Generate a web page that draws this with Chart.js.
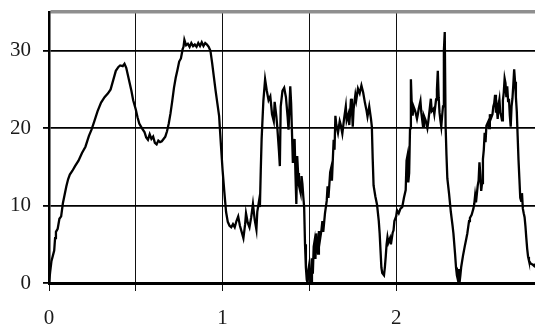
<!DOCTYPE html>
<html>
<head>
<meta charset="utf-8">
<script src="https://cdn.jsdelivr.net/npm/chart.js@4/dist/chart.umd.min.js"></script>
<style>
  html, body { margin: 0; padding: 0; background: #ffffff; }
  #wrap { width: 535px; height: 329px; position: relative; }
</style>
</head>
<body>
<div id="wrap"><canvas id="c"></canvas></div>
<script>
// ---- data ----
const xValues = [
  0, 0.007, 0.014, 0.022, 0.03, 0.035, 0.04, 0.05, 0.06, 0.07, 0.08, 0.09, 0.1, 0.11, 0.12, 0.135, 0.15, 0.17, 0.19, 0.21,
  0.23, 0.245, 0.26, 0.28, 0.3, 0.32, 0.34, 0.355, 0.37, 0.385, 0.4, 0.41, 0.425, 0.435, 0.445, 0.455, 0.465, 0.475, 0.485, 0.5,
  0.51, 0.52, 0.535, 0.55, 0.56, 0.57, 0.58, 0.59, 0.6, 0.61, 0.62, 0.63, 0.64, 0.65, 0.66, 0.67, 0.68, 0.69, 0.7, 0.71,
  0.72, 0.73, 0.74, 0.75, 0.76, 0.77, 0.775, 0.78, 0.79, 0.8, 0.81, 0.82, 0.83, 0.84, 0.85, 0.86, 0.87, 0.88, 0.89, 0.9,
  0.91, 0.92, 0.93, 0.94, 0.95, 0.96, 0.97, 0.98, 0.99, 1.0, 1.01, 1.02, 1.03, 1.04, 1.05, 1.06, 1.07, 1.08, 1.09, 1.1,
  1.11, 1.12, 1.13, 1.135, 1.145, 1.155, 1.165, 1.175, 1.185, 1.195, 1.2, 1.21, 1.215, 1.22, 1.225, 1.235, 1.245, 1.255, 1.265, 1.275,
  1.285, 1.295, 1.3, 1.31, 1.315, 1.325, 1.33, 1.335, 1.345, 1.355, 1.365, 1.375, 1.38, 1.39, 1.395, 1.405, 1.41, 1.415, 1.42, 1.425,
  1.43, 1.435, 1.44, 1.45, 1.455, 1.46, 1.465, 1.47, 1.475, 1.48, 1.485, 1.49, 1.495, 1.5, 1.505, 1.51, 1.515, 1.52, 1.525, 1.53,
  1.535, 1.54, 1.545, 1.55, 1.555, 1.56, 1.57, 1.575, 1.58, 1.59, 1.6, 1.605, 1.61, 1.62, 1.625, 1.63, 1.64, 1.645, 1.65, 1.655,
  1.665, 1.675, 1.68, 1.69, 1.7, 1.71, 1.715, 1.725, 1.73, 1.74, 1.745, 1.75, 1.755, 1.765, 1.77, 1.78, 1.79, 1.8, 1.81, 1.82,
  1.83, 1.835, 1.845, 1.855, 1.86, 1.865, 1.87, 1.88, 1.89, 1.9, 1.905, 1.91, 1.915, 1.92, 1.93, 1.935, 1.94, 1.945, 1.95, 1.955,
  1.965, 1.97, 1.98, 1.985, 1.99, 2.0, 2.005, 2.015, 2.025, 2.035, 2.045, 2.055, 2.06, 2.065, 2.07, 2.075, 2.08, 2.085, 2.09, 2.095,
  2.1, 2.11, 2.12, 2.125, 2.13, 2.14, 2.145, 2.155, 2.16, 2.17, 2.18, 2.185, 2.19, 2.2, 2.205, 2.215, 2.22, 2.23, 2.235, 2.24,
  2.245, 2.25, 2.255, 2.26, 2.265, 2.27, 2.275, 2.28, 2.285, 2.29, 2.295, 2.305, 2.315, 2.325, 2.33, 2.34, 2.345, 2.35, 2.355, 2.36,
  2.365, 2.37, 2.375, 2.385, 2.395, 2.405, 2.41, 2.42, 2.425, 2.435, 2.445, 2.45, 2.455, 2.46, 2.47, 2.475, 2.48, 2.485, 2.49, 2.495,
  2.5, 2.505, 2.51, 2.515, 2.52, 2.53, 2.535, 2.54, 2.545, 2.555, 2.56, 2.565, 2.57, 2.575, 2.58, 2.585, 2.59, 2.595, 2.6, 2.605,
  2.61, 2.615, 2.62, 2.625, 2.63, 2.635, 2.64, 2.645, 2.65, 2.655, 2.66, 2.665, 2.67, 2.675, 2.68, 2.685, 2.69, 2.695, 2.7, 2.705,
  2.71, 2.715, 2.72, 2.725, 2.73, 2.735, 2.74, 2.745, 2.75, 2.755, 2.76, 2.765, 2.775, 2.785, 2.795, 2.8
];
const yValues = [
  0, 1.5, 2.8, 3.5, 4.2, 5.8, 6.6, 7.0, 8.3, 8.6, 10.3, 11.4, 12.5, 13.4, 14.0, 14.5, 15.1, 15.8, 16.8, 17.6,
  19.0, 19.8, 20.8, 22.2, 23.3, 24.0, 24.5, 25.0, 26.2, 27.4, 27.9, 28.1, 28.0, 28.3, 27.8, 26.8, 25.8, 24.8, 23.6, 22.4,
  21.4, 20.6, 20.0, 19.5, 18.8, 18.5, 19.2, 18.6, 18.9, 18.1, 17.9, 18.4, 18.2, 18.3, 18.6, 18.9, 19.6, 20.6, 21.9, 23.5,
  25.2, 26.5, 27.5, 28.6, 29.0, 30.2, 30.5, 31.4, 30.7, 30.9, 30.5, 31.0, 30.6, 30.8, 30.5, 31.0, 30.6, 31.1, 30.6, 31.0,
  30.8, 30.5, 30.0, 28.4, 26.6, 24.8, 23.2, 21.6, 18.0, 14.6, 11.8, 9.2, 7.9, 7.4, 7.2, 7.6, 7.2, 8.0, 8.6, 7.4,
  6.6, 5.8, 7.6, 9.0, 7.8, 7.2, 8.5, 10.2, 8.2, 6.9, 9.2, 10.6, 9.8, 14.5, 18.6, 23.5, 26.3, 24.8, 23.6, 24.1,
  21.8, 20.9, 23.4, 21.5, 20.2, 17.0, 15.1, 22.8, 24.8, 25.2, 24.0, 21.4, 19.8, 25.4, 23.2, 15.5, 17.8, 18.6, 14.0, 10.2,
  16.4, 14.2, 12.6, 11.6, 13.8, 12.8, 11.2, 9.8, 5.0, 2.0, 0.4, 0, 1.8, 2.5, 0.8, 0, 3.2, 1.2, 4.7, 5.4,
  3.1, 6.4, 5.0, 3.8, 6.7, 5.4, 6.9, 8.0, 6.6, 9.0, 10.6, 12.5, 11.0, 14.3, 14.8, 13.2, 18.5, 17.2, 21.6, 20.5,
  19.4, 20.9, 20.5, 19.3, 21.2, 22.8, 21.0, 21.8, 20.4, 23.8, 22.6, 20.2, 22.5, 24.3, 23.6, 25.1, 24.5, 25.5, 24.6, 23.3,
  22.2, 21.5, 22.8, 21.2, 20.2, 16.0, 12.6, 11.2, 10.1, 8.0, 6.4, 4.2, 2.0, 1.3, 1.0, 2.0, 3.4, 5.0, 5.9, 5.2,
  5.8, 5.0, 6.5, 6.8, 8.0, 8.6, 9.4, 9.0, 9.6, 9.8, 11.0, 12.0, 15.8, 16.4, 13.0, 14.2, 20.0, 26.3, 23.0, 21.6,
  22.8, 22.2, 21.2, 21.8, 22.5, 23.5, 22.0, 20.2, 21.6, 21.0, 20.0, 20.8, 21.8, 23.8, 22.2, 22.5, 21.8, 23.7, 25.0, 27.4,
  24.0, 22.0, 21.0, 20.2, 21.6, 22.8, 30.0, 32.4, 20.3, 16.5, 13.5, 11.5, 9.2, 7.4, 6.4, 3.6, 2.0, 1.0, 0.5, 1.8,
  0, 1.0, 2.1, 3.5, 4.7, 5.8, 6.4, 8.0, 8.4, 8.8, 9.6, 10.2, 11.3, 10.4, 12.6, 13.2, 15.6, 14.0, 11.9, 12.9,
  16.0, 17.2, 19.4, 18.2, 20.3, 20.8, 20.0, 21.8, 21.2, 21.8, 22.8, 23.2, 24.3, 22.0, 22.6, 21.2, 23.0, 23.7, 22.0, 21.6,
  21.0, 23.6, 24.6, 26.4, 25.8, 24.0, 25.4, 23.5, 23.8, 21.6, 20.2, 22.8, 23.8, 25.6, 27.6, 26.0, 24.0, 22.2, 19.0, 15.9,
  13.5, 11.0, 10.6, 11.6, 9.6, 9.0, 8.5, 7.3, 5.8, 4.4, 3.4, 2.9, 2.5, 2.4, 2.2, 2.5
];
const xTickLabels = ['0', '1', '2'];
const yTickLabels = ['0', '10', '20', '30'];
const xMin = 0, xMax = 2.8, xStep = 0.5;
const yMin = 0, yMax = 35, yStep = 10;

// ---- build chart ----
const points = xValues.map((x, i) => ({ x: x, y: yValues[i] }));
const isHalf = v => Math.abs(v * 2 - Math.round(v * 2)) < 1e-6;
const fontSpec = { family: "'Liberation Serif', 'Times New Roman', serif", size: 21 };

new Chart(document.getElementById('c'), {
  type: 'line',
  data: {
    datasets: [{
      data: points,
      borderColor: '#000000',
      borderWidth: 2.3,
      pointRadius: 0,
      tension: 0,
      fill: false
    }]
  },
  options: {
    responsive: true,
    maintainAspectRatio: false,
    animation: false,
    events: [],
    layout: { padding: { left: 11, top: 12, right: 0, bottom: 0 } },
    plugins: { legend: { display: false }, tooltip: { enabled: false } },
    scales: {
      x: {
        type: 'linear',
        min: xMin,
        max: xMax,
        afterFit: s => { s.height = 46; s.paddingLeft = 0; s.paddingRight = 0; },
        ticks: {
          stepSize: xStep,
          autoSkip: false,
          maxRotation: 0,
          padding: 15,
          color: '#1a1a1a',
          font: fontSpec,
          callback: v => (xTickLabels.includes(String(v)) ? String(v) : '')
        },
        grid: {
          drawTicks: true,
          tickLength: 8,
          color: c => (isHalf(c.tick.value) ? '#111111' : 'rgba(0,0,0,0)'),
          tickColor: c => (isHalf(c.tick.value) ? '#111111' : 'rgba(0,0,0,0)'),
          lineWidth: 1
        },
        border: { display: true, color: '#000000', width: 3 }
      },
      y: {
        type: 'linear',
        min: yMin,
        max: yMax,
        afterFit: s => { s.width = 38; s.paddingTop = 0; s.paddingBottom = 0; },
        ticks: {
          stepSize: yStep,
          padding: 12,
          color: '#1a1a1a',
          font: fontSpec,
          callback: v => (yTickLabels.includes(String(v)) ? String(v) : '')
        },
        grid: {
          drawTicks: true,
          tickLength: 6,
          color: c => (c.tick.value === yMax ? '#8f8f8f' : '#000000'),
          tickColor: c => (c.tick.value === yMax ? 'rgba(0,0,0,0)' : '#000000'),
          lineWidth: c => (c.tick.value === yMax ? 3.5 : 1.8)
        },
        border: { display: true, color: '#000000', width: 2.5 }
      }
    }
  }
});
</script>
</body>
</html>
